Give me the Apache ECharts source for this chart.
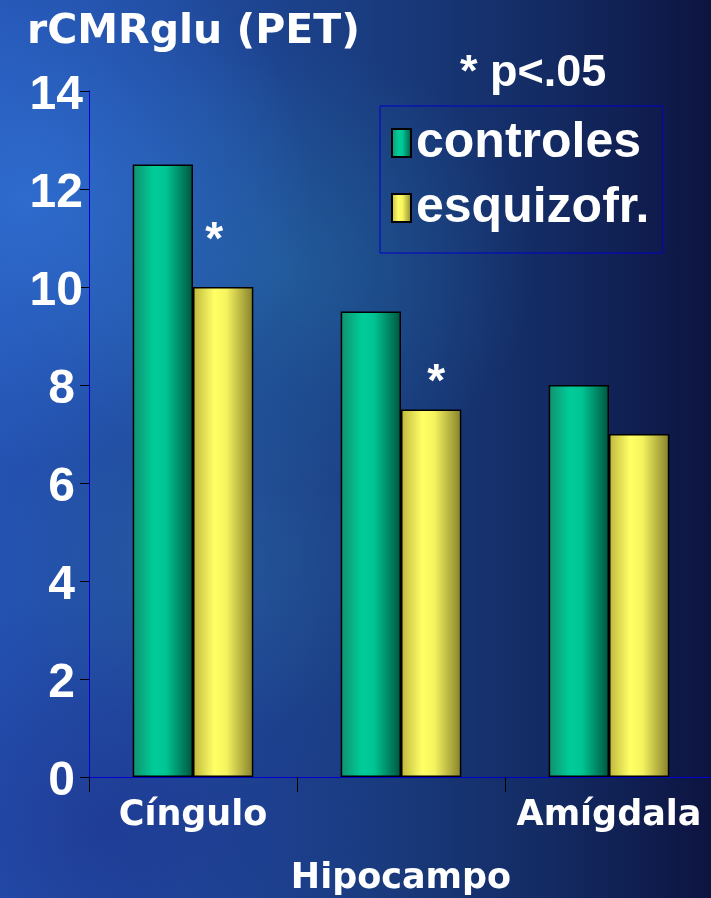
<!DOCTYPE html>
<html>
<head>
<meta charset="utf-8">
<script src="https://cdn.jsdelivr.net/npm/echarts@6/dist/echarts.min.js"></script>
<style>
  html, body { margin: 0; padding: 0; }
  #chart {
    width: 711px; height: 898px;
    background:
      radial-gradient(ellipse 40% 30% at 4% 22%, rgba(48,112,210,0.85), rgba(48,112,210,0) 100%),
      radial-gradient(ellipse 35% 25% at 40% 30%, rgba(40,120,170,0.45), rgba(40,120,170,0) 100%),
      radial-gradient(ellipse 30% 20% at 30% 62%, rgba(45,105,160,0.45), rgba(45,105,160,0) 100%),
      radial-gradient(ellipse 40% 25% at 15% 92%, rgba(30,50,140,0.6), rgba(30,50,140,0) 100%),
      linear-gradient(to right, #2452b2 0%, #1f4898 30%, #193a7c 55%, #132a62 78%, #0d1440 100%);
  }
</style>
</head>
<body>
<div id="chart"></div>
<script>
// Regional cerebral glucose metabolism by brain region
const categories = ['Cíngulo', 'Hipocampo', 'Amígdala'];
const controles = [12.5, 9.5, 8];
const esquizofr = [10, 7.5, 7];
const significant = [true, true, false];   // marked with * (p<.05)
const yTicks = { min: 0, max: 14, interval: 2 };

const chart = echarts.init(document.getElementById('chart'));

const greenFill = new echarts.graphic.LinearGradient(0, 0, 1, 0, [
  { offset: 0, color: '#12906e' },
  { offset: 0.35, color: '#00cc99' },
  { offset: 0.55, color: '#00c593' },
  { offset: 1, color: '#00543e' }
]);
const yellowFill = new echarts.graphic.LinearGradient(0, 0, 1, 0, [
  { offset: 0, color: '#bdb73c' },
  { offset: 0.35, color: '#ffff66' },
  { offset: 0.55, color: '#f6f45e' },
  { offset: 1, color: '#85802b' }
]);

// star placement above each yellow bar
const starOffsets = [[-9, 0], [5, 0], [0, 0]];
const starDistances = [23, 3, 0];

chart.setOption({
  backgroundColor: 'transparent',
  animation: false,
  title: [
    {
      text: 'rCMRglu (PET)',
      left: 22, top: 7,
      textStyle: { color: '#fff', fontFamily: 'DejaVu Sans', fontWeight: 'bold', fontSize: 41 }
    },
    {
      text: '* p<.05',
      left: 455, top: 46,
      textStyle: { color: '#fff', fontFamily: 'Liberation Sans', fontWeight: 'bold', fontSize: 45 }
    }
  ],
  legend: {
    orient: 'vertical',
    left: 380, top: 106,
    padding: [12, 13, 20, 11],
    borderColor: '#0000cc', borderWidth: 1,
    itemWidth: 19, itemHeight: 28, itemGap: 15, itemTextGap: 17,
    icon: 'rect',
    textStyle: { color: '#fff', fontFamily: 'Liberation Sans', fontWeight: 'bold', fontSize: 50, lineHeight: 50 },
    data: ['controles', 'esquizofr.']
  },
  grid: { left: 89, right: -2, top: 91, bottom: 121, containLabel: false, outerBoundsMode: 'none' },
  xAxis: {
    type: 'category',
    data: categories,
    axisLine: { lineStyle: { color: '#0000cc', width: 1 } },
    axisTick: { show: true, length: 15, lineStyle: { color: '#000', width: 1 } },
    axisLabel: {
      interval: 0,
      margin: 7,
      color: '#fff', fontFamily: 'DejaVu Sans', fontWeight: 'bold', fontSize: 35, lineHeight: 63,
      formatter: (v, i) => (i % 2 === 1 ? '\n' + v : v)
    }
  },
  yAxis: {
    type: 'value',
    min: yTicks.min, max: yTicks.max, interval: yTicks.interval,
    splitLine: { show: false },
    axisLine: { show: true, lineStyle: { color: '#0000cc', width: 1 } },
    axisTick: { show: true, length: 9, lineStyle: { color: '#000', width: 1 } },
    axisLabel: {
      margin: 6,
      color: '#fff', fontFamily: 'Liberation Sans', fontWeight: 'bold', fontSize: 48,
      formatter: v => (v < 10 ? '{s|' + v + '}' : '{d|' + v + '}'),
      rich: {
        s: { color: '#fff', fontFamily: 'Liberation Sans', fontWeight: 'bold', fontSize: 48, padding: [9, 8, 0, 0] },
        d: { color: '#fff', fontFamily: 'Liberation Sans', fontWeight: 'bold', fontSize: 48, padding: [9, 0, 0, 0] }
      }
    }
  },
  series: [
    {
      name: 'controles',
      type: 'bar',
      data: controles,
      barGap: '0%',
      barCategoryGap: '42%',
      itemStyle: { color: greenFill, borderColor: '#000', borderWidth: 1.5 }
    },
    {
      name: 'esquizofr.',
      type: 'bar',
      data: esquizofr.map((v, i) => ({
        value: v,
        label: {
          show: significant[i],
          position: 'top',
          distance: starDistances[i],
          offset: starOffsets[i],
          formatter: '*',
          color: '#fff', fontFamily: 'Liberation Sans', fontWeight: 'bold', fontSize: 46, lineHeight: 46
        }
      })),
      itemStyle: { color: yellowFill, borderColor: '#000', borderWidth: 1.5 }
    }
  ]
});
</script>
</body>
</html>
